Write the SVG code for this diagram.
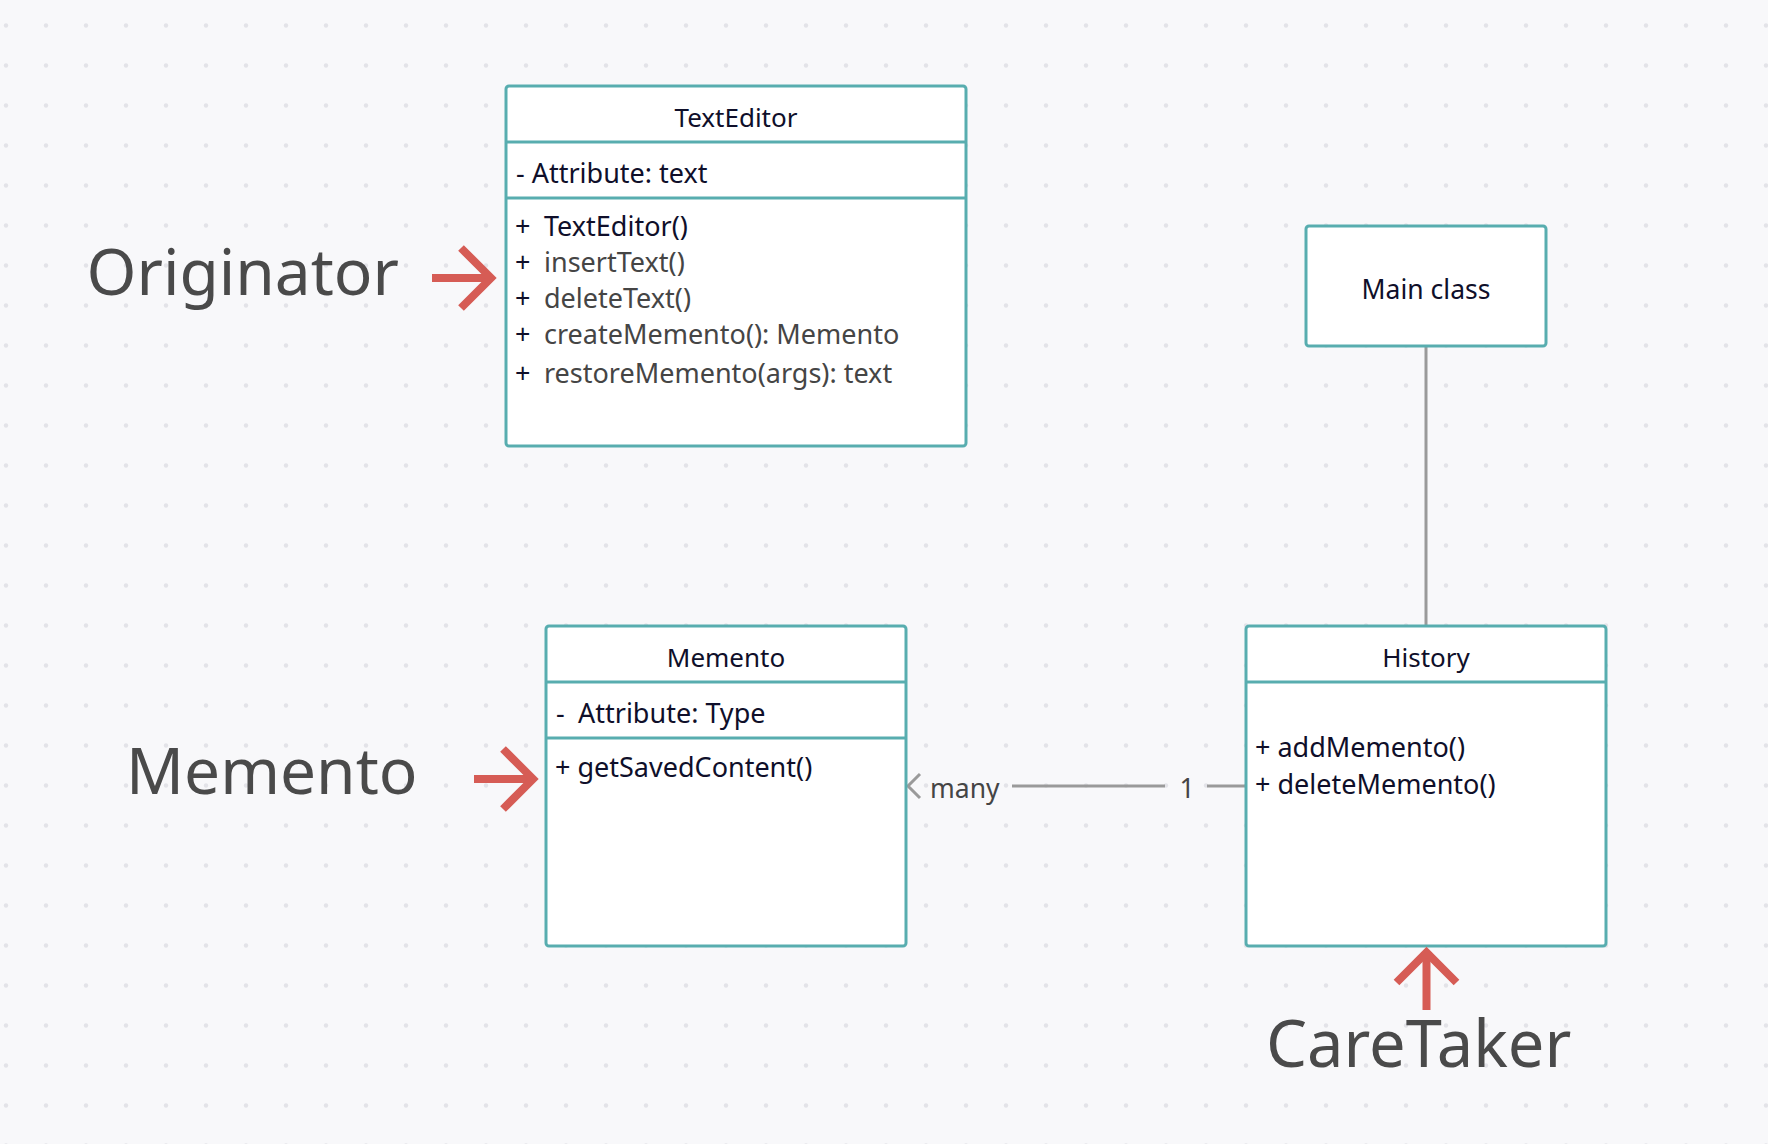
<svg xmlns="http://www.w3.org/2000/svg" width="1768" height="1144" viewBox="0 0 1768 1144">
  <defs>
    <pattern id="dots" x="0" y="0" width="40" height="40" patternUnits="userSpaceOnUse">
      <circle cx="6" cy="25.5" r="2.2" fill="#e3e3e8"/>
    </pattern>
  </defs>
  <style>
    .box { fill: #ffffff; stroke: #58adaf; stroke-width: 3; }
    .div { stroke: #58adaf; stroke-width: 3; fill: none; }
    .t { font-family: "Noto Sans", "Open Sans", sans-serif; font-size: 26px; fill: #0f0f2a; }
    .m { font-size: 27px; }
    .g { fill: #454545; }
    .mid { text-anchor: middle; }
    .big { font-family: "Noto Sans", "Open Sans", sans-serif; font-size: 64px; fill: #4a4a4a; }
    .red { stroke: #d65c55; stroke-width: 8; fill: none; stroke-linejoin: miter; stroke-linecap: butt; }
    .conn { stroke: #9a9a9a; stroke-width: 3; fill: none; }
    .lbl { font-family: "Noto Sans", "Open Sans", sans-serif; font-size: 26.5px; fill: #454545; }
  </style>
  <rect width="1768" height="1144" fill="#f8f8fa"/>
  <rect width="1768" height="1144" fill="url(#dots)"/>

  <g id="connectors">
    <line class="conn" x1="1426" y1="346" x2="1426" y2="626"/>
    <line class="conn" x1="1012" y1="786" x2="1165" y2="786"/>
    <line class="conn" x1="1207" y1="786" x2="1246" y2="786"/>
    <polyline class="conn" points="920,774 908,786 920,798"/>
    <text class="lbl" x="930" y="798">many</text>
    <text class="lbl mid" x="1187" y="798">1</text>
  </g>

  <g id="TextEditor">
    <rect class="box" x="506" y="86" width="460" height="360" rx="3"/>
    <line class="div" x1="506" y1="142" x2="966" y2="142"/>
    <line class="div" x1="506" y1="198" x2="966" y2="198"/>
    <text class="t mid" x="736" y="127">TextEditor</text>
    <text class="t m" x="516" y="183">- Attribute: text</text>
    <text class="t m" x="515" y="236">+</text>
    <text class="t m" x="544" y="236">TextEditor()</text>
    <text class="t m" x="515" y="272">+</text>
    <text class="t m g" x="544" y="272">insertText()</text>
    <text class="t m" x="515" y="308">+</text>
    <text class="t m g" x="544" y="308">deleteText()</text>
    <text class="t m" x="515" y="344">+</text>
    <text class="t m g" x="544" y="344">createMemento(): Memento</text>
    <text class="t m" x="515" y="383">+</text>
    <text class="t m g" x="544" y="383">restoreMemento(args): text</text>
  </g>

  <g id="MainClass">
    <rect class="box" x="1306" y="226" width="240" height="120" rx="3"/>
    <text class="t mid" x="1426" y="299" style="font-size:26.5px">Main class</text>
  </g>

  <g id="Memento">
    <rect class="box" x="546" y="626" width="360" height="320" rx="3"/>
    <line class="div" x1="546" y1="682" x2="906" y2="682"/>
    <line class="div" x1="546" y1="738" x2="906" y2="738"/>
    <text class="t mid" x="726" y="667">Memento</text>
    <text class="t m" x="556" y="723">-</text>
    <text class="t m" x="578" y="723">Attribute: Type</text>
    <text class="t m" x="555" y="777">+ getSavedContent()</text>
  </g>

  <g id="History">
    <rect class="box" x="1246" y="626" width="360" height="320" rx="3"/>
    <line class="div" x1="1246" y1="682" x2="1606" y2="682"/>
    <text class="t mid" x="1426" y="667">History</text>
    <text class="t m" x="1255" y="757">+ addMemento()</text>
    <text class="t m" x="1255" y="794">+ deleteMemento()</text>
  </g>

  <g id="OriginatorLabel">
    <text class="big" x="86.5" y="295">Originator</text>
    <line class="red" x1="432" y1="278" x2="490" y2="278"/>
    <polyline class="red" points="461,248 491,278 461,308"/>
  </g>

  <g id="MementoLabel">
    <text class="big" x="126" y="794">Memento</text>
    <line class="red" x1="474" y1="779" x2="532" y2="779"/>
    <polyline class="red" points="503,749 533,779 503,809"/>
  </g>

  <g id="CareTakerLabel">
    <text class="big" x="1266" y="1067" style="font-size:65px">CareTaker</text>
    <line class="red" x1="1426.5" y1="1010" x2="1426.5" y2="954"/>
    <polyline class="red" points="1396.5,982.5 1426.5,952.5 1456.5,982.5"/>
  </g>
</svg>
